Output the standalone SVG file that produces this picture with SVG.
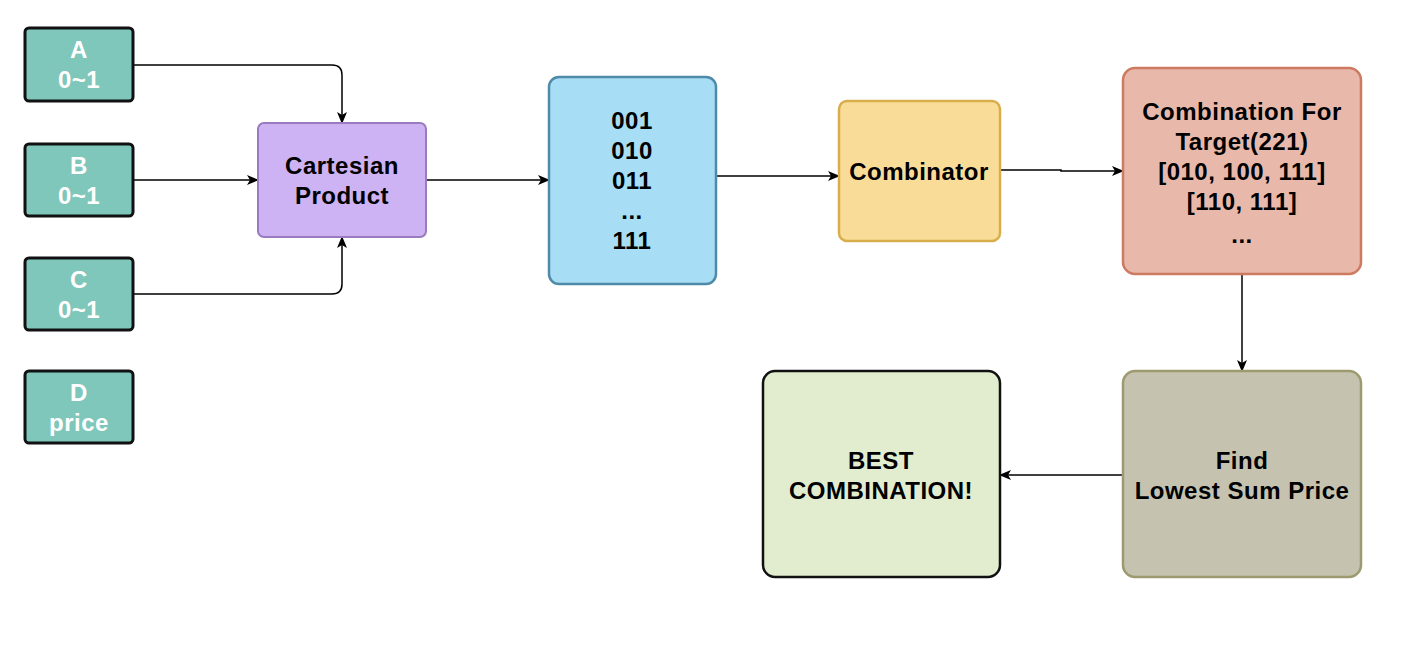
<svg xmlns="http://www.w3.org/2000/svg" width="1404" height="646" viewBox="0 0 1404 646">
<defs>
<style>
text{font-family:"Liberation Sans",Arial,Helvetica,sans-serif;font-weight:bold;font-size:24px;letter-spacing:0.5px;text-anchor:middle;dominant-baseline:central}
.w{fill:#ffffff}
.k{fill:#000000}
.teal{fill:#7fc7bb;stroke:#111111;stroke-width:3}
.edge{fill:none;stroke:#000000;stroke-width:1.5}
</style>
<marker id="arr" viewBox="0 0 12 12" refX="11" refY="6" markerWidth="12" markerHeight="12" markerUnits="userSpaceOnUse" orient="auto">
<path d="M0,1 L12,6 L0,11 L3,6 Z" fill="#000000"/>
</marker>
</defs>
<rect width="1404" height="646" fill="#ffffff"/>
<g id="connectors">
<path class="edge" d="M133,65 H332 Q342,65 342,75 V123" marker-end="url(#arr)"/>
<path class="edge" d="M133,180 H258" marker-end="url(#arr)"/>
<path class="edge" d="M133,294 H332 Q342,294 342,284 V237" marker-end="url(#arr)"/>
<path class="edge" d="M426,180 H549" marker-end="url(#arr)"/>
<path class="edge" d="M716,176 H839" marker-end="url(#arr)"/>
<path class="edge" d="M1000,170 H1061 V171 H1123" marker-end="url(#arr)"/>
<path class="edge" d="M1242,274 V371" marker-end="url(#arr)"/>
<path class="edge" d="M1123,475 H1000" marker-end="url(#arr)"/>
</g>
<g id="nodeA"><rect class="teal" x="25" y="28" width="108" height="73" rx="4"/><text class="w" x="79" y="49">A</text><text class="w" x="79" y="79">0~1</text></g>
<g id="nodeB"><rect class="teal" x="25" y="144" width="108" height="72" rx="4"/><text class="w" x="79" y="165">B</text><text class="w" x="79" y="195">0~1</text></g>
<g id="nodeC"><rect class="teal" x="25" y="258" width="108" height="72" rx="4"/><text class="w" x="79" y="279">C</text><text class="w" x="79" y="309">0~1</text></g>
<g id="nodeD"><rect class="teal" x="25" y="371" width="108" height="72" rx="4"/><text class="w" x="79" y="392">D</text><text class="w" x="79" y="422">price</text></g>
<g id="cartesian"><rect x="258" y="123" width="168" height="114" rx="6" fill="#cdb3f3" stroke="#9a7bc0" stroke-width="2"/><text class="k" x="342" y="165">Cartesian</text><text class="k" x="342" y="195">Product</text></g>
<g id="binary"><rect x="549" y="77" width="167" height="207" rx="10" fill="#a8def5" stroke="#4f8aa8" stroke-width="2.5"/>
<text class="k" x="632" y="120">001</text><text class="k" x="632" y="150">010</text><text class="k" x="632" y="180">011</text><text class="k" x="632" y="210">...</text><text class="k" x="632" y="240">111</text></g>
<g id="combinator"><rect x="839" y="101" width="161" height="140" rx="8" fill="#f8dc98" stroke="#d8ae4c" stroke-width="2.5"/><text class="k" x="919" y="171">Combinator</text></g>
<g id="target"><rect x="1123" y="68" width="238" height="206" rx="12" fill="#e8b9ab" stroke="#cc7a60" stroke-width="2.5"/>
<text class="k" x="1242" y="111">Combination For</text><text class="k" x="1242" y="141">Target(221)</text><text class="k" x="1242" y="171">[010, 100, 111]</text><text class="k" x="1242" y="201">[110, 111]</text><text class="k" x="1242" y="234">...</text></g>
<g id="find"><rect x="1123" y="371" width="238" height="206" rx="12" fill="#c5c3b0" stroke="#9c9a6e" stroke-width="2.5"/><text class="k" x="1242" y="460">Find</text><text class="k" x="1242" y="490">Lowest Sum Price</text></g>
<g id="best"><rect x="763" y="371" width="237" height="206" rx="12" fill="#e2ecce" stroke="#111111" stroke-width="2.5"/><text class="k" x="881" y="460">BEST</text><text class="k" x="881" y="490">COMBINATION!</text></g>
</svg>
